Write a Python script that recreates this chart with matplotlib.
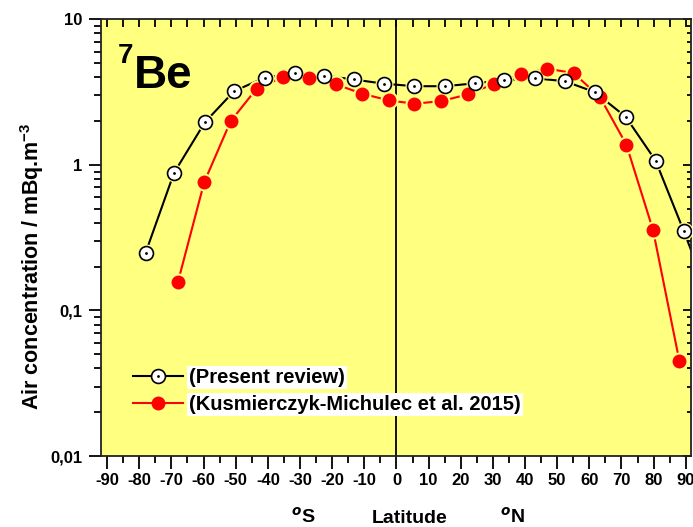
import matplotlib
matplotlib.use('Agg')
import matplotlib.pyplot as plt
from matplotlib.ticker import FixedLocator, LogLocator, MultipleLocator, NullFormatter
from matplotlib.legend_handler import HandlerTuple

plt.rcParams['font.family'] = ['Liberation Sans', 'DejaVu Sans']
plt.rcParams['font.weight'] = 'bold'
plt.rcParams['mathtext.fontset'] = 'custom'
plt.rcParams['mathtext.rm'] = 'Liberation Sans:bold'
plt.rcParams['mathtext.bf'] = 'Liberation Sans:bold'

# Present review
lat_rev = [-78, -69.2, -59.6, -50.5, -41.0, -31.6, -22.4, -13.3, -3.9, 5.6,
           15.0, 24.4, 33.6, 43.0, 52.3, 61.7, 71.3, 80.6, 89.4, 98.8]
conc_rev = [0.25, 0.88, 1.96, 3.21, 3.97, 4.27, 4.10, 3.86, 3.61, 3.47,
            3.47, 3.63, 3.82, 3.93, 3.76, 3.16, 2.14, 1.07, 0.35, 0.10]

# Kusmierczyk-Michulec et al. 2015
lat_km = [-68.0, -59.8, -51.6, -43.5, -35.3, -27.1, -18.8, -10.6, -2.3, 5.6,
          13.9, 22.2, 30.5, 38.8, 46.9, 55.1, 63.3, 71.5, 79.8, 88.0]
conc_km = [0.156, 0.76, 1.99, 3.34, 4.01, 3.97, 3.57, 3.08, 2.77, 2.63,
           2.74, 3.05, 3.61, 4.18, 4.58, 4.27, 2.92, 1.38, 0.358, 0.045]

xticks = list(range(-90, 91, 10))
yticks = [10, 1, 0.1, 0.01]
ylabels = ['10', '1', '0,1', '0,01']

bg = '#ffff80'

fig = plt.figure(figsize=(6.93, 5.27), dpi=100)
ax = fig.add_axes([0.1453, 0.1347, 0.997 - 0.1453, 0.9634 - 0.1347])
ax.set_facecolor(bg)

ax.axvline(0, color='black', lw=1.3, zorder=1)

# lines
ax.plot(lat_rev, conc_rev, '-', color='black', lw=1.5, zorder=2)
ax.plot(lat_km, conc_km, '-', color='red', lw=1.5, zorder=2)
# small halo around markers (line gap)
ax.plot(lat_rev, conc_rev, 'o', ms=13, color=bg, mew=0, zorder=3)
ax.plot(lat_km, conc_km, 'o', ms=13, color=bg, mew=0, zorder=3)
# markers
m1, = ax.plot(lat_rev, conc_rev, 'o', ms=10, mfc='white', mec='black', mew=1.2, zorder=5)
d1, = ax.plot(lat_rev, conc_rev, '.', ms=2, color='black', zorder=6)
m2, = ax.plot(lat_km, conc_km, 'o', ms=10, mfc='red', mec='red', mew=0, zorder=4)

l1, = ax.plot([], [], '-', color='black', lw=1.5)
l2, = ax.plot([], [], '-', color='red', lw=1.5)

ax.set_yscale('log')
ax.set_ylim(0.01, 10)
ax.set_xlim(-92, 91.6)

ax.xaxis.set_major_locator(FixedLocator(xticks))
ax.xaxis.set_minor_locator(MultipleLocator(5))
ax.set_xticklabels([str(t) for t in xticks])
ax.yaxis.set_major_locator(FixedLocator(yticks))
ax.set_yticklabels(ylabels)
ax.yaxis.set_minor_locator(LogLocator(base=10, subs=range(2, 10)))
ax.yaxis.set_minor_formatter(NullFormatter())

ax.tick_params(axis='both', which='major', direction='out', length=9, width=1.3,
               labelsize=12, top=False, right=False)
ax.tick_params(axis='both', which='minor', direction='out', length=5, width=1.3,
               top=False, right=False)
ax.tick_params(axis='x', pad=3)
ax.tick_params(axis='y', pad=4)
for lab in ax.get_xticklabels() + ax.get_yticklabels():
    lab.set_fontweight('bold')

for s in ax.spines.values():
    s.set_linewidth(1.3)
    s.set_color('#222222')

top = ax.secondary_xaxis('top')
top.xaxis.set_major_locator(MultipleLocator(5))
top.tick_params(direction='in', length=6, width=1.3, labeltop=False)
top.spines['top'].set_visible(False)

right = ax.secondary_yaxis('right')
right.yaxis.set_major_locator(FixedLocator(yticks))
right.yaxis.set_minor_locator(LogLocator(base=10, subs=range(2, 10)))
right.tick_params(which='major', direction='in', length=6, width=1.3, labelright=False)
right.tick_params(which='minor', direction='in', length=3, width=1.3, labelright=False)
right.yaxis.set_minor_formatter(NullFormatter())
right.spines['right'].set_visible(False)

leg = ax.legend([(l1, m1, d1), (l2, m2)],
                ['(Present review)', '(Kusmierczyk-Michulec et al. 2015)'],
                handler_map={tuple: HandlerTuple(ndivide=1, pad=0)},
                numpoints=1,
                loc='upper left', bbox_to_anchor=(133 / 693, 1 - 368 / 527),
                bbox_transform=fig.transFigure, frameon=False,
                handlelength=2.5, handletextpad=0.3, labelspacing=0.4,
                borderpad=0, borderaxespad=0,
                prop={'size': 14.5, 'weight': 'bold'})
for t in leg.get_texts():
    t.set_bbox(dict(facecolor='white', edgecolor='none', pad=1.5))

fig.text(118 / 693, 1 - 43 / 527, '7', fontsize=20, fontweight='bold', va='top', ha='left')
fig.text(134 / 693, 1 - 88 / 527, 'Be', fontsize=33, fontweight='bold', va='baseline', ha='left')

fig.text(32 / 693, 1 - 266 / 527, 'Air concentration / mBq.m$^{-3}$', rotation=90,
         fontsize=15.5, fontweight='bold', ha='center', va='center')

fig.text(303 / 693, 1 - 523 / 527, r'$^{o}$S', fontsize=14, fontweight='bold', ha='center', va='baseline')
fig.text(410 / 693, 1 - 523 / 527, 'Latitude', fontsize=14, fontweight='bold', ha='center', va='baseline')
fig.text(512 / 693, 1 - 523 / 527, r'$^{o}$N', fontsize=14, fontweight='bold', ha='center', va='baseline')

fig.savefig('out.png', dpi=100)
